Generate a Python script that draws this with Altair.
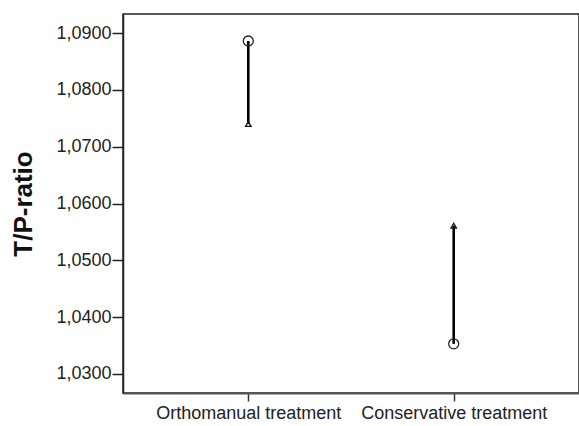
import altair as alt
import pandas as pd

categories = ["Orthomanual treatment", "Conservative treatment"]
circle_values = [1.0886, 1.0353]
triangle_values = [1.0740, 1.0561]
tick_values = [1.03, 1.04, 1.05, 1.06, 1.07, 1.08, 1.09]

df = pd.DataFrame({"group": categories, "circle": circle_values, "triangle": triangle_values})

xenc = alt.X("group:N", sort=categories,
             scale=alt.Scale(type="point", padding=0.61),
             axis=alt.Axis(title=None, labelAngle=0, labelFont="Liberation Sans", labelFontSize=18,
                           labelLimit=400, labelColor="#222222", tickColor="#333333", domainColor="#555555",
                           domainWidth=2.2, tickSize=8, tickWidth=1.5, labelPadding=3))
yscale = alt.Scale(domain=[1.02665, 1.09335], nice=False, zero=False)
yaxis = alt.Axis(title="T/P-ratio", values=tick_values,
                 labelExpr="replace(format(datum.value, '.4f'), '.', ',')",
                 labelFont="Liberation Sans", labelFontSize=18, labelColor="#222222",
                 titleFont="Liberation Sans", titleFontSize=26, titleFontWeight="bold",
                 titleColor="#111111", titlePadding=19, tickSize=11, tickWidth=1.5,
                 tickColor="#222222", domainColor="#222222", domainWidth=1.5, grid=False, labelPadding=1)

base = alt.Chart(df)
rule = base.mark_rule(color="black", strokeWidth=2.6).encode(
    x=xenc, y=alt.Y("circle:Q", scale=yscale, axis=yaxis), y2="triangle:Q")
circ = base.mark_point(shape="circle", filled=False, color="#222222", size=100, strokeWidth=1.3, opacity=1).encode(
    x=alt.X("group:N", sort=categories), y=alt.Y("circle:Q"))
tri = base.mark_point(shape="triangle-up", filled=False, color="#111111", size=30, strokeWidth=1.3, opacity=1).encode(
    x=alt.X("group:N", sort=categories), y=alt.Y("triangle:Q"))

chart = (rule + circ + tri).properties(
    width=456, height=379,
    autosize=alt.AutoSizeParams(type="none"),
    padding={"left": 123, "top": 14, "right": 0, "bottom": 33},
    background="white",
).configure_view(stroke="#222222", strokeWidth=1.5)

chart.save("out.html", embed_options={"renderer": "svg", "actions": False})
